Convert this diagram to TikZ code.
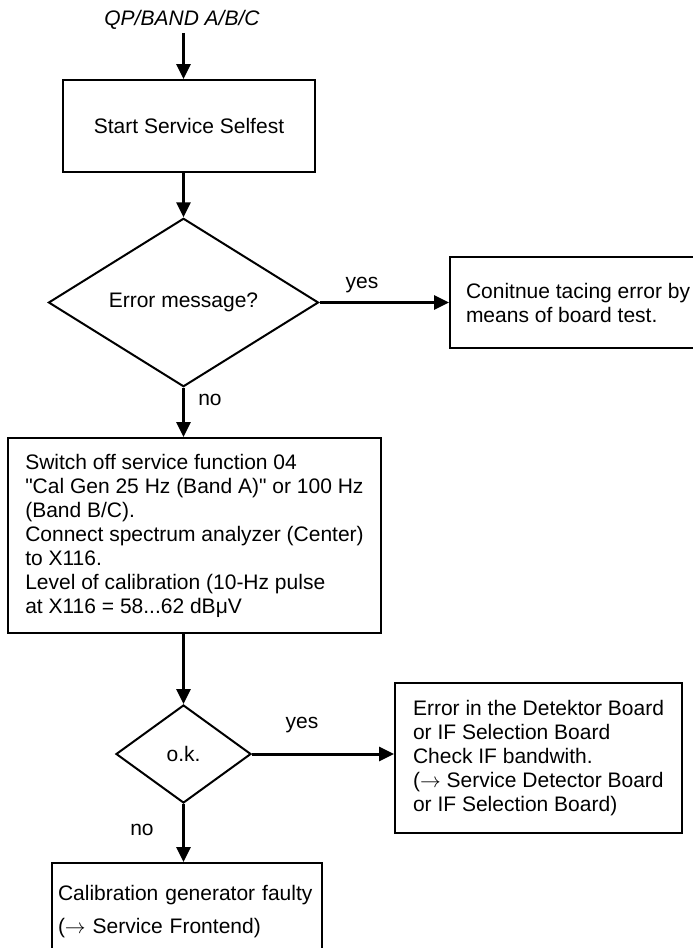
\documentclass[tikz,border=0pt]{standalone}
\usepackage{fontspec}
\setmainfont{Liberation Sans}
\usetikzlibrary{shapes.geometric,arrows.meta}
\begin{document}
\begin{tikzpicture}[x=1pt,y=-1pt,
  every node/.style={font=\fontsize{21}{24}\selectfont},
  box/.style={draw, line width=2pt, inner ysep=0pt, align=left},
  dia/.style={draw, diamond, line width=2pt, inner sep=0pt},
  arr/.style={line width=3pt, -{Triangle[length=15pt,width=14pt]}},
  lbl/.style={inner sep=0pt}]
\useasboundingbox (0,0) rectangle (693,948);

\node[lbl, inner ysep=3pt, font=\fontsize{21}{24}\selectfont\itshape] (title) at (182,20) {QP/BAND A/B/C};
\node[box, align=center, minimum width=252pt, minimum height=92pt] (b1) at (189,126) {Start Service Selfest};
\node[dia, minimum width=270pt, minimum height=151pt] (d1) at (183.5,302.5) {Error message?};
\node[box, anchor=west, inner xsep=16pt, minimum height=91pt] (cont) at (449,302.5) {Conitnue tacing error by\\means of board test.};
\node[box, inner xsep=0pt, minimum width=373pt, minimum height=195pt] (b2) at (194.5,535.5)
  {Switch off service function 04\\\textquotedbl Cal Gen 25 Hz (Band A)\textquotedbl{} or 100 Hz\\(Band B/C).\\Connect spectrum analyzer (Center)\\to X116.\\Level of calibration (10-Hz pulse\\at X116 = 58...62 dBμV};
\node[dia, minimum width=135pt, minimum height=98pt] (d2) at (183.5,754) {o.k.};
\node[box, inner xsep=0pt, minimum width=287pt, minimum height=150pt] (b3) at (538.5,758)
  {Error in the Detektor Board\\or IF Selection Board\\Check IF bandwith.\\($\rightarrow$ Service Detector Board\\or IF Selection Board)};
\node[box, text width=258pt, inner xsep=6pt, minimum height=97pt, font=\fontsize{21}{33}\selectfont] (b4) at (187,911.5)
  {Calibration generator faulty\\($\rightarrow$ Service Frontend)};

\node[lbl] (y1) at (362,285) {yes};
\node[lbl] (n1) at (210,400) {no};
\node[lbl] (y2) at (302,725) {yes};
\node[lbl] (n2) at (142,830) {no};

\draw[arr] (title.south -| d1.north) -- (b1.north -| d1.north);
\draw[arr] (b1.south -| d1.north) -- (d1.north);
\draw[arr] (d1.east) -- (d1.east -| cont.west);
\draw[arr] (d1.south) -- (d1.south |- b2.north);
\draw[arr] (b2.south -| d2.north) -- (d2.north);
\draw[arr] (d2.east) -- (d2.east -| b3.west);
\draw[arr] (d2.south) -- (d2.south |- b4.north);
\end{tikzpicture}
\end{document}
